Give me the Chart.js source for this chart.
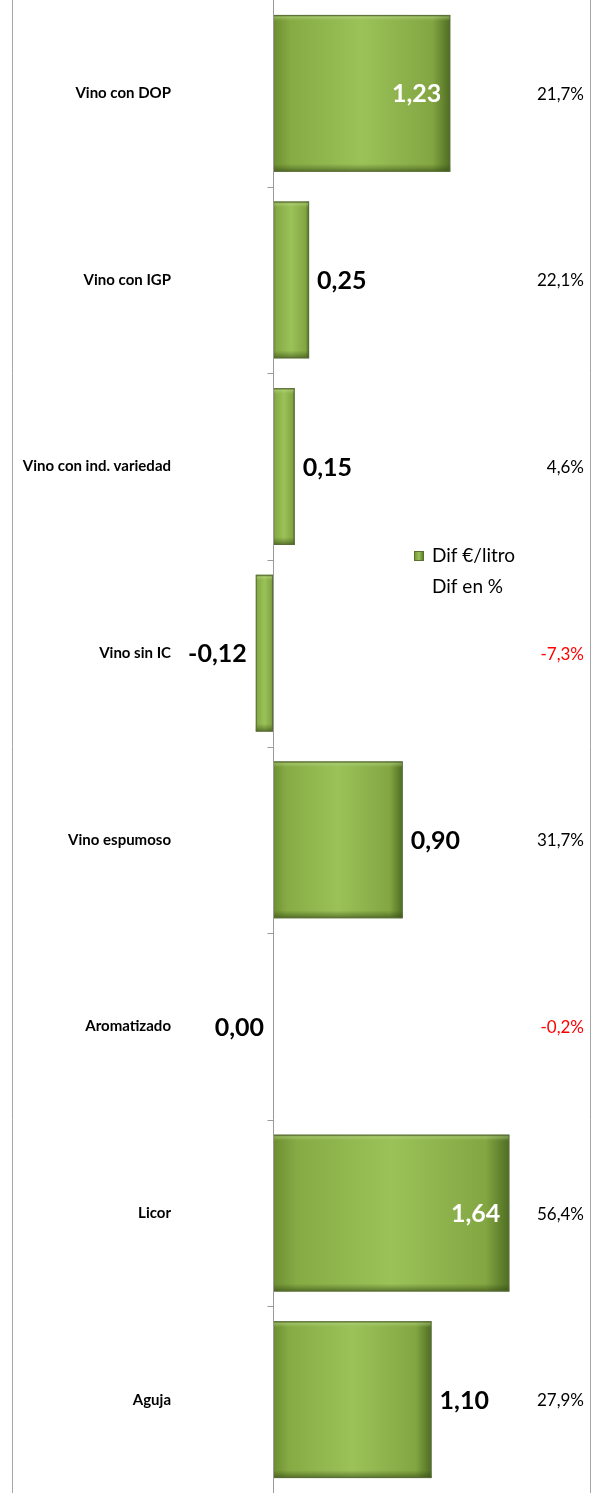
<!DOCTYPE html>
<html>
<head>
<meta charset="utf-8">
<script src="https://cdn.jsdelivr.net/npm/chart.js@4"></script>
<style>
  html, body { margin:0; padding:0; background:#ffffff; }
  #wrap { position:relative; width:601px; height:1493px; }
  canvas { display:block; }
</style>
</head>
<body>
<div id="wrap"><canvas id="c" width="601" height="1493"></canvas></div>
<script>
// ---- data ----
const categories = ['Vino con DOP','Vino con IGP','Vino con ind. variedad','Vino sin IC','Vino espumoso','Aromatizado','Licor','Aguja'];
const difEuroLitro = [1.23, 0.25, 0.15, -0.12, 0.90, 0.00, 1.64, 1.10];
const difPct = [21.7, 22.1, 4.6, -7.3, 31.7, -0.2, 56.4, 27.9];
const seriesLabels = ['Dif €/litro', 'Dif en %'];
// label placement style (inside end = true)
const labelInside = [true, false, false, false, false, false, true, false];

const FONT = 'Lato, "Liberation Sans", sans-serif';
const fmt = (v, d) => v.toFixed(d).replace('.', ',');

function barFill(ctx) {
  const chart = ctx.chart;
  if (!chart.chartArea) return '#8db14a';
  const xs = chart.scales.x;
  const v = ctx.raw;
  const x0 = xs.getPixelForValue(0), x1 = xs.getPixelForValue(v);
  if (Math.abs(x1 - x0) < 1) return '#8db14a';
  const g = chart.ctx.createLinearGradient(Math.min(x0,x1), 0, Math.max(x0,x1), 0);
  g.addColorStop(0, '#6c8e31');
  g.addColorStop(0.1, '#86ab45');
  g.addColorStop(0.5, '#9bc259');
  g.addColorStop(0.9, '#83a642');
  g.addColorStop(1, '#4f6d22');
  return g;
}

const framePlugin = {
  id: 'frame',
  beforeDraw(chart) {
    const c = chart.ctx;
    c.save();
    c.strokeStyle = '#a6a6a6';
    c.lineWidth = 1;
    c.beginPath();
    c.moveTo(12.5, 0); c.lineTo(12.5, chart.height);
    c.moveTo(590.5, 0); c.lineTo(590.5, chart.height);
    c.stroke();
    c.restore();
  }
};

const barDecorPlugin = {
  id: 'barDecor',
  afterDatasetDraw(chart, args) {
    if (args.index !== 0) return;
    const c = chart.ctx;
    const meta = args.meta;
    meta.data.forEach(el => {
      const left = Math.min(el.x, el.base), right = Math.max(el.x, el.base);
      const w = right - left;
      if (w < 1) return;
      const top = el.y - el.height / 2, bot = el.y + el.height / 2;
      c.save();
      const g = c.createLinearGradient(0, top, 0, bot);
      g.addColorStop(0, 'rgba(70,90,30,0.55)');
      g.addColorStop(0.015, 'rgba(190,220,140,0.45)');
      g.addColorStop(0.04, 'rgba(150,190,90,0)');
      g.addColorStop(0.95, 'rgba(60,80,20,0)');
      g.addColorStop(1, 'rgba(45,65,15,0.6)');
      c.fillStyle = g;
      c.fillRect(left, top, w, el.height);
      c.strokeStyle = 'rgba(90,110,60,0.9)';
      c.lineWidth = 1;
      c.strokeRect(left + 0.5, top + 0.5, w - 1, el.height - 1);
      c.restore();
    });
  }
};

const axisPlugin = {
  id: 'zeroAxis',
  afterDatasetsDraw(chart) {
    const c = chart.ctx;
    const xs = chart.scales.x, ys = chart.scales.y;
    const x0 = Math.round(xs.getPixelForValue(0)) + 0.5;
    c.save();
    c.strokeStyle = '#9a9a9a';
    c.lineWidth = 1;
    c.beginPath();
    c.moveTo(x0, chart.chartArea.top); c.lineTo(x0, chart.chartArea.bottom);
    for (let i = 0; i < categories.length - 1; i++) {
      const yb = Math.round((ys.getPixelForValue(i) + ys.getPixelForValue(i + 1)) / 2) + 0.5;
      c.moveTo(x0 - 6, yb); c.lineTo(x0, yb);
    }
    c.stroke();
    c.restore();
  }
};

const labelPlugin = {
  id: 'valueLabels',
  afterDraw(chart) {
    const c = chart.ctx;
    const meta = chart.getDatasetMeta(0);
    const ys = chart.scales.y;
    c.save();
    c.textBaseline = 'middle';
    meta.data.forEach((el, i) => {
      const v = difEuroLitro[i];
      c.font = 'bold 25px ' + FONT;
      let x, align, color = '#000000';
      if (labelInside[i]) { x = el.x - 9; align = 'right'; color = '#ffffff'; }
      else if (v > 0) { x = el.x + 8; align = 'left'; }
      else { x = Math.min(el.x, el.base) - 9; align = 'right'; }
      c.textAlign = align;
      c.fillStyle = color;
      c.fillText(fmt(v, 2), x, el.y + 1);
      // percentage column
      c.font = '17px ' + FONT;
      c.textAlign = 'right';
      c.fillStyle = difPct[i] < 0 ? '#ff0000' : '#000000';
      c.fillText(fmt(difPct[i], 1) + '%', chart.chartArea.right - 6, ys.getPixelForValue(i) + 1);
    });
    // legend
    const lx = 414, ly = 556;
    const sq = c.createLinearGradient(lx, 0, lx + 10, 0);
    sq.addColorStop(0, '#6c8e31'); sq.addColorStop(0.5, '#9bc259'); sq.addColorStop(1, '#4f6d22');
    c.fillStyle = sq;
    c.fillRect(lx, ly - 5, 10, 10);
    c.strokeStyle = '#5a7030';
    c.strokeRect(lx + 0.5, ly - 4.5, 9, 9);
    c.font = '19px ' + FONT;
    c.textAlign = 'left';
    c.fillStyle = '#000000';
    c.fillText(seriesLabels[0], 432, ly);
    c.fillText(seriesLabels[1], 432, ly + 31);
    c.restore();
  }
};

new Chart(document.getElementById('c'), {
  type: 'bar',
  data: {
    labels: categories,
    datasets: [{
      label: seriesLabels[0],
      data: difEuroLitro,
      backgroundColor: barFill,
      borderWidth: 0,
      barPercentage: 0.84,
      categoryPercentage: 1
    }]
  },
  options: {
    indexAxis: 'y',
    responsive: false,
    animation: false,
    layout: { padding: { left: 0, right: 11, top: 0, bottom: 0 } },
    plugins: { legend: { display: false }, tooltip: { enabled: false } },
    scales: {
      x: { display: false, min: -0.66, max: 2.2 },
      y: {
        grid: { display: false, drawTicks: false },
        border: { display: false },
        ticks: { color: '#000000', font: { family: FONT, size: 15, weight: 'bold' }, padding: 7 },
        afterFit(scale) { scale.width = 178; scale.paddingTop = 0; scale.paddingBottom = 0; }
      }
    }
  },
  plugins: [framePlugin, barDecorPlugin, axisPlugin, labelPlugin]
});
</script>
</body>
</html>
